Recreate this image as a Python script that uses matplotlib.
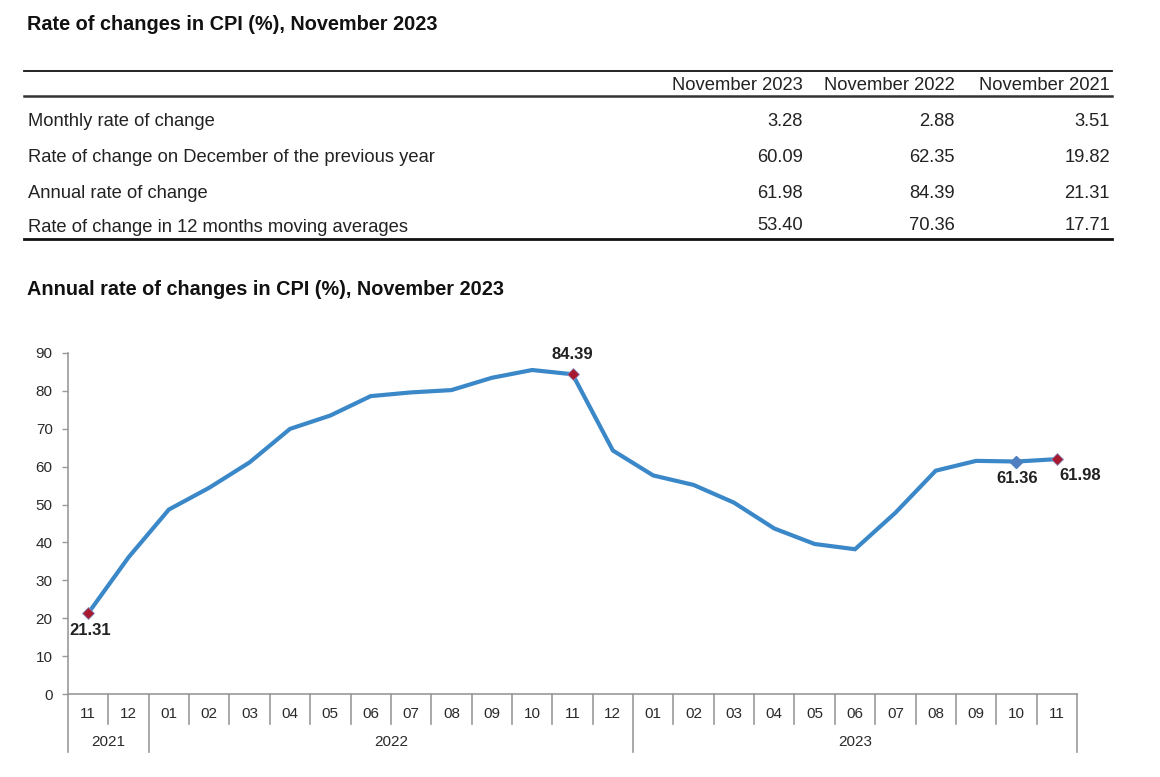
import matplotlib.pyplot as plt
from matplotlib.transforms import blended_transform_factory

plt.rcParams['font.family'] = ['Liberation Sans', 'DejaVu Sans']

# table data
col_labels = ['November 2023', 'November 2022', 'November 2021']
row_labels = ['Monthly rate of change',
              'Rate of change on December of the previous year',
              'Annual rate of change',
              'Rate of change in 12 months moving averages']
table_vals = [['3.28', '2.88', '3.51'],
              ['60.09', '62.35', '19.82'],
              ['61.98', '84.39', '21.31'],
              ['53.40', '70.36', '17.71']]

# chart data
months = ['11', '12',
          '01', '02', '03', '04', '05', '06', '07', '08', '09', '10', '11', '12',
          '01', '02', '03', '04', '05', '06', '07', '08', '09', '10', '11']
years = ['2021', '2022', '2023']
year_counts = [2, 12, 11]
annual_rate = [21.31, 36.08,
               48.69, 54.44, 61.14, 69.97, 73.50, 78.62, 79.60, 80.21, 83.45, 85.51, 84.39, 64.27,
               57.68, 55.18, 50.51, 43.68, 39.59, 38.21, 47.83, 58.94, 61.53, 61.36, 61.98]

W, H = 1160, 777
fig = plt.figure(figsize=(W / 100, H / 100), dpi=100)


def fy(py):
    return 1 - py / H


def fx(px):
    return px / W


txt = '#222222'

# titles
fig.text(fx(27), fy(25), 'Rate of changes in CPI (%), November 2023',
         fontsize=14.3, fontweight='bold', va='center', color='#111111')
fig.text(fx(27), fy(289), 'Annual rate of changes in CPI (%), November 2023',
         fontsize=14.3, fontweight='bold', va='center', color='#111111')

# table lines
fig.add_artist(plt.Line2D([fx(24), fx(1112)], [fy(71), fy(71)], color='#111111', lw=1.3))
fig.add_artist(plt.Line2D([fx(24), fx(1112)], [fy(96), fy(96)], color='#333333', lw=1.8))
fig.add_artist(plt.Line2D([fx(24), fx(1112)], [fy(239), fy(239)], color='#111111', lw=2.0))

col_x = [803, 955, 1110]
row_y = [121, 157, 193, 226]
tsize = 13.2
for cx, lab in zip(col_x, col_labels):
    fig.text(fx(cx), fy(85), lab, ha='right', va='center', fontsize=tsize, color=txt)
for ry, lab, vals in zip(row_y, row_labels, table_vals):
    fig.text(fx(28), fy(ry + 1), lab, ha='left', va='center', fontsize=tsize, color=txt)
    for cx, v in zip(col_x, vals):
        fig.text(fx(cx), fy(ry), v, ha='right', va='center', fontsize=tsize, color=txt)

# chart
ax_l, ax_r, ax_b, ax_t = 68, 1077, 694, 353
ax = fig.add_axes([fx(ax_l), fy(ax_b), (ax_r - ax_l) / W, (ax_b - ax_t) / H])
x = list(range(len(annual_rate)))
ax.plot(x, annual_rate, color='#3b88c9', lw=3.0, solid_joinstyle='miter', zorder=3)

red = '#a6192e'
hi = [0, 12, 24]
ax.plot([x[i] for i in hi], [annual_rate[i] for i in hi], linestyle='none',
        marker='D', ms=6.5, color=red, mec='#8a8fc0', mew=0.6, zorder=4)
ax.plot([x[23]], [annual_rate[23]], linestyle='none', marker='D', ms=6.5,
        color='#4f7fc0', zorder=4)

lab_kw = dict(fontsize=12, fontweight='bold', color='#222222', ha='center', va='center',
              textcoords='offset points')
ax.annotate(f'{annual_rate[0]:.2f}', (x[0], annual_rate[0]), xytext=(1.5, -12.5), **lab_kw)
ax.annotate(f'{annual_rate[12]:.2f}', (x[12], annual_rate[12]), xytext=(0, 14), **lab_kw)
ax.annotate(f'{annual_rate[23]:.2f}', (x[23], annual_rate[23]), xytext=(0.5, -12), **lab_kw)
ax.annotate(f'{annual_rate[24]:.2f}', (x[24], annual_rate[24]), xytext=(17, -12), **lab_kw)

ax.set_xlim(-0.5, len(x) - 0.5)
ax.set_ylim(0, 90)
ax.set_yticks(range(0, 91, 10))
ax.tick_params(axis='y', length=4, width=1, color='#999999', pad=7,
               labelsize=11, labelcolor='#2a2a2a')
ax.set_xticks([])
for s in ['top', 'right']:
    ax.spines[s].set_visible(False)
for s in ['left', 'bottom']:
    ax.spines[s].set_color('#999999')
    ax.spines[s].set_linewidth(1.2)

# category axis below the chart
trans = blended_transform_factory(ax.transData, ax.transAxes)
ah = ax_b - ax_t
short_y = -30 / ah
long_y = -58 / ah
label_y = -20 / ah
year_y = -48 / ah

year_edges = [-0.5]
for c in year_counts:
    year_edges.append(year_edges[-1] + c)

for i in range(len(months) + 1):
    bx = i - 0.5
    bottom = long_y if bx in year_edges else short_y
    ax.plot([bx, bx], [0, bottom], color='#999999', lw=1.2, transform=trans, clip_on=False)

for i, m in enumerate(months):
    ax.text(i, label_y, m, transform=trans, ha='center', va='center',
            fontsize=11, color='#2a2a2a')

for yr, a, b in zip(years, year_edges[:-1], year_edges[1:]):
    ax.text((a + b) / 2, year_y, yr, transform=trans, ha='center', va='center',
            fontsize=11, color='#2a2a2a')

fig.savefig('out.png', dpi=100)
